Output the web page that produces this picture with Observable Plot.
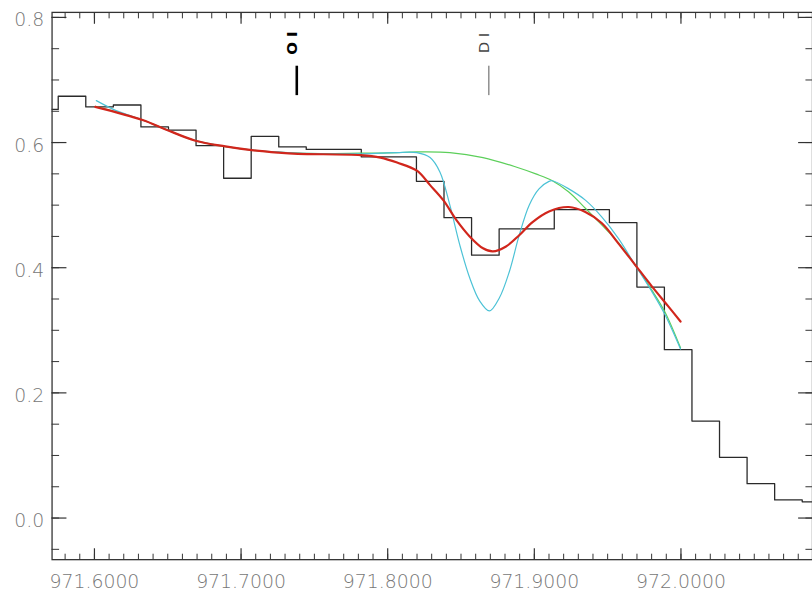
<!DOCTYPE html>
<html><head><meta charset="utf-8">
<script src="https://cdn.jsdelivr.net/npm/d3@7"></script>
<script src="https://cdn.jsdelivr.net/npm/@observablehq/plot@0.6"></script>
<style>
html,body{margin:0;padding:0;background:#fff;overflow:hidden;}
#chart{width:812px;height:596px;overflow:hidden;}
#chart svg{display:block;}
#chart g[aria-label$="tick label"]{font-size:19px;font-weight:200;}
</style></head>
<body><div id="chart"></div>
<script>
// Observed spectrum (histogram bin centres, Angstrom) and flux
const binWave = [971.5659, 971.5847, 971.6035, 971.6223, 971.6411, 971.6599, 971.6787, 971.6975,
  971.7163, 971.7351, 971.7538, 971.7726, 971.7914, 971.8102, 971.8290, 971.8478, 971.8666,
  971.8854, 971.9042, 971.9230, 971.9418, 971.9606, 971.9793, 971.9981, 972.0169, 972.0357,
  972.0545, 972.0733, 972.0921];
const binFlux = [0.653, 0.674, 0.657, 0.660, 0.625, 0.620, 0.595, 0.543,
  0.610, 0.593, 0.589, 0.589, 0.577, 0.577, 0.538, 0.480, 0.420,
  0.462, 0.462, 0.493, 0.493, 0.472, 0.369, 0.269, 0.155, 0.097,
  0.055, 0.029, 0.026];

// Continuum (green)
const contWave = [971.6006, 971.6328, 971.6689, 971.7072, 971.7387, 971.7815, 971.8064, 971.8199,
  971.8424, 971.8650, 971.8875, 971.9010, 971.9123, 971.9235, 971.9348, 971.9461, 971.9573,
  971.9686, 971.9799, 971.9889, 971.9997];
const contFlux = [0.658, 0.636, 0.603, 0.588, 0.583, 0.583, 0.584, 0.585,
  0.584, 0.576, 0.561, 0.550, 0.539, 0.521, 0.495, 0.468, 0.440,
  0.405, 0.365, 0.330, 0.272];

// Unconvolved model (cyan)
const intrWave = [971.6013, 971.6148, 971.6328, 971.6486, 971.6689, 971.6892, 971.7072, 971.7252,
  971.7387, 971.7590, 971.7815, 971.7951, 971.8064, 971.8199, 971.8289, 971.8356, 971.8424,
  971.8492, 971.8559, 971.8627, 971.8694, 971.8762, 971.8830, 971.8897, 971.8965, 971.9032,
  971.9100, 971.9123, 971.9235, 971.9348, 971.9461, 971.9573, 971.9686, 971.9799, 971.9889,
  971.9997];
const intrFlux = [0.667, 0.651, 0.636, 0.621, 0.603, 0.594, 0.588, 0.585,
  0.583, 0.582, 0.582, 0.583, 0.584, 0.584, 0.576, 0.553, 0.500,
  0.436, 0.384, 0.347, 0.331, 0.352, 0.394, 0.452, 0.500, 0.526,
  0.538, 0.539, 0.526, 0.508, 0.481, 0.447, 0.405, 0.363, 0.326,
  0.270];

// Convolved model fit (red)
const fitWave = [971.6006, 971.6328, 971.6486, 971.6689, 971.6892, 971.7072, 971.7252, 971.7387,
  971.7815, 971.7951, 971.8064, 971.8199, 971.8289, 971.8379, 971.8469, 971.8559, 971.8650,
  971.8717, 971.8807, 971.8897, 971.8988, 971.9100, 971.9235, 971.9348, 971.9461, 971.9573,
  971.9686, 971.9799, 971.9911, 971.9997];
const fitFlux = [0.657, 0.636, 0.621, 0.603, 0.594, 0.588, 0.584, 0.582,
  0.580, 0.576, 0.568, 0.555, 0.532, 0.508, 0.476, 0.450, 0.431,
  0.426, 0.434, 0.452, 0.473, 0.490, 0.497, 0.489, 0.471, 0.439,
  0.405, 0.371, 0.339, 0.314];

// Line identifications
const lineIds = ["O I", "D I"];
const lineWaves = [971.738, 971.869];

// Axis tick values
const xMajor = [971.6, 971.7, 971.8, 971.9, 972.0];
const yMajor = [0.0, 0.2, 0.4, 0.6, 0.8];

const rows = (ws, fs) => ws.map((w, i) => ({w, f: fs[i]}));
const hist = rows(binWave, binFlux);
const cont = rows(contWave, contFlux);
const intr = rows(intrWave, intrFlux);
const fit = rows(fitWave, fitFlux);
const ids = lineIds.map((id, i) => ({id, w: lineWaves[i]}));

const xDomain = [971.5711, 972.0897];
const yDomain = [-0.0665, 0.808];
const xMinor = d3.range(97158, 97209).map(v => v / 100);
const yMinor = d3.range(-1, 17).map(v => +(v * 0.05).toFixed(2));

const tickColor = "#333";
const labelColor = "#777";

const plot = Plot.plot({
  width: 819, height: 596,
  marginLeft: 52, marginRight: 0, marginTop: 12, marginBottom: 32,
  x: {domain: xDomain, label: null},
  y: {domain: yDomain, label: null},
  style: {fontFamily: "DejaVu Sans", background: "#fff", color: "#333"},
  marks: [
    Plot.line(hist, {x: "w", y: "f", curve: "step", stroke: "#2a2a2a", strokeWidth: 1.3, clip: true}),
    Plot.line(cont, {x: "w", y: "f", curve: "catmull-rom", stroke: "#5ccf5a", strokeWidth: 1.2}),
    Plot.line(intr, {x: "w", y: "f", curve: "catmull-rom", stroke: "#4cc2d6", strokeWidth: 1.2}),
    Plot.line(fit, {x: "w", y: "f", curve: "catmull-rom", stroke: "#d1261c", strokeWidth: 2.2}),
    Plot.ruleX(ids.filter(d => d.id === "O I"), {x: "w", y1: 0.675, y2: 0.722, stroke: "#000", strokeWidth: 2.6}),
    Plot.ruleX(ids.filter(d => d.id === "D I"), {x: "w", y1: 0.675, y2: 0.722, stroke: "#555", strokeWidth: 1}),
    Plot.text(ids.filter(d => d.id === "O I"), {x: "w", y: 0.759, text: "id", rotate: -90, lineAnchor: "bottom", fontSize: 15, fontWeight: "bold", fill: "#000"}),
    Plot.text(ids.filter(d => d.id === "D I"), {x: "w", y: 0.759, text: "id", rotate: -90, lineAnchor: "bottom", fontSize: 15, fill: "#444"}),
    Plot.frame({stroke: tickColor, strokeWidth: 1.3}),
    Plot.axisX(xMajor, {anchor: "bottom", tickSize: -11, fill: "none", stroke: tickColor, strokeWidth: 1.2, label: null}),
    Plot.axisX(xMinor, {anchor: "bottom", tickSize: -5.5, fill: "none", stroke: tickColor, label: null}),
    Plot.axisX(xMajor, {anchor: "top", tickSize: -11, fill: "none", stroke: tickColor, strokeWidth: 1.2, label: null}),
    Plot.axisX(xMinor, {anchor: "top", tickSize: -5.5, fill: "none", stroke: tickColor, label: null}),
    Plot.axisY(yMajor, {anchor: "left", tickSize: -15, fill: "none", stroke: tickColor, strokeWidth: 1.2, label: null}),
    Plot.axisY(yMinor, {anchor: "left", tickSize: -7.6, fill: "none", stroke: tickColor, label: null}),
    Plot.axisY(yMajor, {anchor: "right", tickSize: -15, fill: "none", stroke: tickColor, strokeWidth: 1.2, label: null}),
    Plot.axisY(yMinor, {anchor: "right", tickSize: -7.6, fill: "none", stroke: tickColor, label: null}),
    Plot.axisX(xMajor, {anchor: "bottom", tickSize: 0, tickPadding: 15, tickFormat: d3.format(".4f"), fill: labelColor, label: null}),
    Plot.axisY(yMajor, {anchor: "left", tickSize: 0, tickPadding: 8, dy: 3, tickFormat: d3.format(".1f"), fill: labelColor, label: null})
  ]
});
document.getElementById("chart").appendChild(plot);
</script>
</body></html>
